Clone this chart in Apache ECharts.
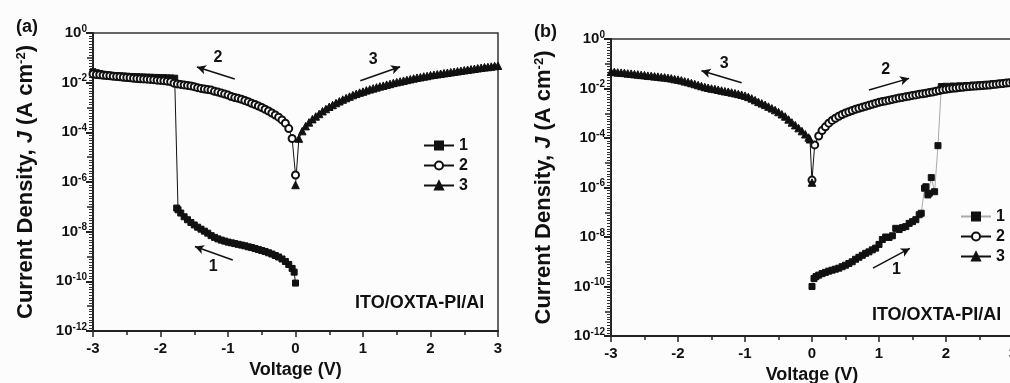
<!DOCTYPE html>
<html>
<head>
<meta charset="utf-8">
<script src="https://cdn.jsdelivr.net/npm/echarts@6.0.0/dist/echarts.min.js"></script>
<style>
  html, body { margin: 0; padding: 0; background: #fcfcfc; }
  #chart { width: 1010px; height: 383px; }
</style>
</head>
<body>
<div id="chart"></div>
<script>
// readings as [voltage (V), log10 J (A cm^-2)], in sweep order
// panel (a)
const aSweep1 = [[0,-10.07],[-0.02,-9.63],[-0.05,-9.48],[-0.1,-9.32],[-0.15,-9.2],[-0.2,-9.1],[-0.25,-9.02],[-0.3,-8.96],[-0.35,-8.9],[-0.4,-8.85],[-0.45,-8.8],[-0.5,-8.76],[-0.55,-8.72],[-0.6,-8.68],[-0.65,-8.64],[-0.7,-8.61],[-0.75,-8.57],[-0.8,-8.54],[-0.85,-8.51],[-0.9,-8.48],[-0.95,-8.45],[-1,-8.42],[-1.05,-8.38],[-1.1,-8.34],[-1.15,-8.29],[-1.2,-8.23],[-1.25,-8.16],[-1.3,-8.06],[-1.35,-7.98],[-1.4,-7.9],[-1.45,-7.82],[-1.5,-7.73],[-1.55,-7.63],[-1.6,-7.52],[-1.65,-7.4],[-1.7,-7.25],[-1.74,-7.12],[-1.76,-7.05],[-1.79,-1.82],[-1.85,-1.81],[-1.9,-1.81],[-1.95,-1.8],[-2,-1.8],[-2.05,-1.79],[-2.1,-1.79],[-2.15,-1.78],[-2.2,-1.78],[-2.25,-1.77],[-2.3,-1.77],[-2.35,-1.76],[-2.4,-1.76],[-2.45,-1.75],[-2.5,-1.74],[-2.55,-1.73],[-2.6,-1.73],[-2.65,-1.72],[-2.7,-1.71],[-2.75,-1.7],[-2.8,-1.68],[-2.85,-1.66],[-2.9,-1.63],[-2.95,-1.6],[-3,-1.56]];
const aSweep2 = [[-3,-1.65],[-2.95,-1.67],[-2.9,-1.68],[-2.85,-1.7],[-2.8,-1.71],[-2.75,-1.72],[-2.7,-1.74],[-2.65,-1.75],[-2.6,-1.76],[-2.55,-1.78],[-2.5,-1.79],[-2.45,-1.8],[-2.4,-1.82],[-2.35,-1.83],[-2.3,-1.84],[-2.25,-1.85],[-2.2,-1.86],[-2.15,-1.87],[-2.1,-1.88],[-2.05,-1.9],[-2,-1.91],[-1.95,-1.92],[-1.9,-1.94],[-1.85,-1.96],[-1.8,-2.02],[-1.75,-2.05],[-1.7,-2.07],[-1.65,-2.09],[-1.6,-2.11],[-1.55,-2.13],[-1.5,-2.16],[-1.45,-2.2],[-1.4,-2.23],[-1.35,-2.26],[-1.3,-2.28],[-1.25,-2.3],[-1.2,-2.35],[-1.15,-2.38],[-1.1,-2.42],[-1.05,-2.46],[-1,-2.5],[-0.95,-2.56],[-0.9,-2.6],[-0.85,-2.63],[-0.8,-2.67],[-0.75,-2.72],[-0.7,-2.77],[-0.65,-2.83],[-0.6,-2.88],[-0.55,-2.94],[-0.5,-3],[-0.45,-3.07],[-0.4,-3.14],[-0.35,-3.22],[-0.3,-3.3],[-0.25,-3.39],[-0.2,-3.5],[-0.15,-3.63],[-0.1,-3.85],[-0.05,-4.25],[0,-5.72]];
const aSweep3 = [[0,-6.12],[0.05,-4.25],[0.1,-3.95],[0.15,-3.75],[0.2,-3.6],[0.25,-3.47],[0.3,-3.36],[0.35,-3.26],[0.4,-3.15],[0.45,-3.06],[0.5,-2.97],[0.55,-2.9],[0.6,-2.82],[0.65,-2.75],[0.7,-2.68],[0.75,-2.62],[0.8,-2.56],[0.85,-2.5],[0.9,-2.45],[0.95,-2.4],[1,-2.36],[1.05,-2.31],[1.1,-2.27],[1.15,-2.23],[1.2,-2.19],[1.25,-2.15],[1.3,-2.12],[1.35,-2.08],[1.4,-2.05],[1.45,-2.01],[1.5,-1.98],[1.55,-1.95],[1.6,-1.92],[1.65,-1.89],[1.7,-1.86],[1.75,-1.83],[1.8,-1.8],[1.85,-1.78],[1.9,-1.75],[1.95,-1.73],[2,-1.7],[2.05,-1.68],[2.1,-1.66],[2.15,-1.64],[2.2,-1.62],[2.25,-1.6],[2.3,-1.58],[2.35,-1.56],[2.4,-1.54],[2.45,-1.52],[2.5,-1.5],[2.55,-1.48],[2.6,-1.46],[2.65,-1.44],[2.7,-1.42],[2.75,-1.4],[2.8,-1.38],[2.85,-1.37],[2.9,-1.35],[2.95,-1.33],[3,-1.32]];

// panel (b)
const bSweep1 = [[0,-10],[0.03,-9.68],[0.06,-9.6],[0.1,-9.54],[0.15,-9.48],[0.2,-9.43],[0.25,-9.38],[0.3,-9.34],[0.35,-9.3],[0.4,-9.26],[0.45,-9.2],[0.5,-9.14],[0.55,-9.07],[0.6,-9],[0.65,-8.9],[0.7,-8.82],[0.75,-8.74],[0.8,-8.66],[0.85,-8.6],[0.9,-8.52],[0.95,-8.45],[1,-8.3],[1.05,-8.1],[1.1,-8],[1.15,-8.02],[1.2,-7.95],[1.25,-7.65],[1.3,-7.7],[1.35,-7.62],[1.4,-7.58],[1.45,-7.45],[1.5,-7.38],[1.55,-7.3],[1.6,-7.1],[1.63,-7.04],[1.68,-6.03],[1.7,-5.97],[1.73,-6.3],[1.75,-6.23],[1.78,-5.6],[1.83,-6.17],[1.88,-4.31],[1.93,-1.92],[2,-1.91],[2.1,-1.9],[2.2,-1.89],[2.3,-1.88],[2.4,-1.86],[2.5,-1.85],[2.6,-1.83],[2.7,-1.81],[2.8,-1.79],[2.9,-1.77],[3,-1.74]];
const bSweep2 = [[0,-5.7],[0.04,-4.28],[0.1,-3.92],[0.15,-3.7],[0.2,-3.55],[0.25,-3.4],[0.3,-3.29],[0.35,-3.2],[0.4,-3.12],[0.45,-3.05],[0.5,-2.99],[0.55,-2.94],[0.6,-2.89],[0.65,-2.84],[0.7,-2.8],[0.75,-2.76],[0.8,-2.72],[0.85,-2.68],[0.9,-2.64],[0.95,-2.6],[1,-2.56],[1.05,-2.53],[1.1,-2.5],[1.15,-2.47],[1.2,-2.44],[1.25,-2.41],[1.3,-2.38],[1.35,-2.36],[1.4,-2.33],[1.45,-2.31],[1.5,-2.28],[1.55,-2.26],[1.6,-2.23],[1.65,-2.21],[1.7,-2.19],[1.75,-2.16],[1.8,-2.14],[1.85,-2.11],[1.9,-2.08],[1.95,-2.05],[2,-2.03],[2.05,-2.01],[2.1,-1.99],[2.15,-1.98],[2.2,-1.96],[2.25,-1.95],[2.3,-1.93],[2.35,-1.92],[2.4,-1.91],[2.45,-1.9],[2.5,-1.89],[2.55,-1.88],[2.6,-1.87],[2.65,-1.86],[2.7,-1.84],[2.75,-1.83],[2.8,-1.81],[2.85,-1.8],[2.9,-1.78],[2.95,-1.77],[3,-1.75]];
const bSweep3 = [[0,-5.8],[-0.03,-4.05],[-0.05,-3.98],[-0.1,-3.85],[-0.15,-3.72],[-0.2,-3.6],[-0.25,-3.48],[-0.3,-3.37],[-0.35,-3.25],[-0.4,-3.13],[-0.45,-3.04],[-0.5,-2.95],[-0.55,-2.87],[-0.6,-2.8],[-0.65,-2.73],[-0.7,-2.66],[-0.75,-2.6],[-0.8,-2.54],[-0.85,-2.47],[-0.9,-2.4],[-0.95,-2.34],[-1,-2.29],[-1.05,-2.25],[-1.1,-2.22],[-1.15,-2.19],[-1.2,-2.16],[-1.25,-2.13],[-1.3,-2.11],[-1.35,-2.08],[-1.4,-2.05],[-1.45,-2.02],[-1.5,-2],[-1.55,-1.97],[-1.6,-1.94],[-1.65,-1.9],[-1.7,-1.86],[-1.75,-1.82],[-1.8,-1.78],[-1.85,-1.74],[-1.9,-1.71],[-1.95,-1.67],[-2,-1.64],[-2.05,-1.62],[-2.1,-1.59],[-2.15,-1.57],[-2.2,-1.55],[-2.25,-1.54],[-2.3,-1.52],[-2.35,-1.51],[-2.4,-1.49],[-2.45,-1.48],[-2.5,-1.46],[-2.55,-1.45],[-2.6,-1.43],[-2.65,-1.42],[-2.7,-1.4],[-2.75,-1.39],[-2.8,-1.37],[-2.85,-1.36],[-2.9,-1.35],[-2.95,-1.33],[-3,-1.32]];

// sweep arrows [v1, logJ1, v2, logJ2] and notes [text, v, logJ]
const aArrows = [[-0.9,-1.85,-1.46,-1.37],[0.96,-1.92,1.55,-1.36],[-0.93,-9.14,-1.49,-8.6]];
const aNotes = [['2',-1.15,-1.0],['3',1.15,-1.09],['1',-1.22,-9.42],['ITO/OXTA-PI/Al',1.84,-10.87]];
const bArrows = [[-1.05,-1.77,-1.65,-1.28],[0.85,-2.06,1.45,-1.59],[0.91,-9.26,1.46,-8.46]];
const bNotes = [['3',-1.31,-0.98],['2',1.1,-1.25],['1',1.26,-9.33],['ITO/OXTA-PI/Al',1.86,-11.15]];

const xTicks = { min: -3, max: 3, interval: 1 };
const yRange = { min: 1e-12, max: 1 };
const decadeRange = { min: -12, max: 0, interval: 1 };

const FONT = '"Liberation Sans", Arial, sans-serif';
const INK = '#111';

const toJ = (pts) => pts.map(([v, e]) => [v, Math.pow(10, e)]);

function sweep(name, pts, symbol, size, gi, lineColor) {
  return {
    type: 'line',
    name,
    xAxisIndex: gi,
    yAxisIndex: gi,
    data: toJ(pts),
    symbol,
    symbolSize: size,
    showAllSymbol: true,
    lineStyle: { width: 1, color: lineColor || INK },
    itemStyle: { color: INK, borderColor: INK, borderWidth: 1 },
    emphasis: { disabled: true },
    animation: false,
  };
}

function annotate(series, arrows, notes) {
  series.markLine = {
    silent: true,
    animation: false,
    symbol: ['none', 'arrow'],
    symbolSize: [7, 9],
    lineStyle: { color: INK, width: 1.5, type: 'solid' },
    label: { show: false },
    data: arrows.map(([x1, y1, x2, y2]) => [
      { coord: [x1, Math.pow(10, y1)] },
      { coord: [x2, Math.pow(10, y2)] },
    ]),
  };
  series.markPoint = {
    silent: true,
    animation: false,
    symbol: 'rect',
    symbolSize: 1,
    itemStyle: { color: 'rgba(0,0,0,0)' },
    label: {
      show: true,
      position: 'inside',
      formatter: '{b}',
      color: INK,
      fontFamily: FONT,
      fontWeight: 'bold',
      fontSize: 16,
    },
    data: notes.map(([t, v, e]) => ({
      name: t,
      coord: [v, Math.pow(10, e)],
      label: t.length > 2 ? { fontSize: 18 } : {},
    })),
  };
  return series;
}

function xAxis(gi) {
  return {
    type: 'value',
    gridIndex: gi,
    ...xTicks,
    name: 'Voltage (V)',
    nameLocation: 'middle',
    nameGap: 30,
    nameTextStyle: { fontFamily: FONT, fontWeight: 'bold', fontSize: 18, color: INK },
    axisLine: { onZero: false, lineStyle: { color: '#222', width: 2 } },
    axisTick: { inside: false, length: 6, lineStyle: { color: '#222', width: 1.5 } },
    minorTick: { show: true, splitNumber: 2, length: 4, lineStyle: { color: '#222', width: 1.5 } },
    splitLine: { show: false },
    axisLabel: { margin: 10, fontFamily: FONT, fontWeight: 'bold', fontSize: 15, color: INK },
  };
}

function yAxis(gi) {
  return {
    type: 'log',
    logBase: 100,
    gridIndex: gi,
    ...yRange,
    name: '{t|Current Density, }{j|J}{t| (A cm}{s|-2}{t|)}',
    nameLocation: 'middle',
    nameRotate: 90,
    nameGap: 56,
    nameTextStyle: {
      rich: {
        t: { fontFamily: FONT, fontWeight: 'bold', fontSize: 22, color: INK },
        j: { fontFamily: FONT, fontWeight: 'bold', fontStyle: 'italic', fontSize: 22, color: INK },
        s: { fontFamily: FONT, fontWeight: 'bold', fontSize: 13, color: INK, verticalAlign: 'top', lineHeight: 14 },
      },
    },
    axisLine: { onZero: false, lineStyle: { color: '#222', width: 2 } },
    axisTick: { inside: false, length: 7, lineStyle: { color: '#222', width: 2 } },
    minorTick: { show: false },
    splitLine: { show: false },
    axisLabel: {
      margin: 6,
      formatter: (v) => `{b|10}{e|${Math.round(Math.log10(v))}}`,
      rich: {
        b: { fontFamily: FONT, fontWeight: 'bold', fontSize: 15, color: INK, lineHeight: 18 },
        e: { fontFamily: FONT, fontWeight: 'bold', fontSize: 10, color: INK, verticalAlign: 'top', lineHeight: 12 },
      },
    },
  };
}

// decade / sub-decade tick marks laid over the log axis (exponent units)
function decadeTicks(gi) {
  return {
    type: 'value',
    gridIndex: gi,
    position: 'left',
    offset: 0,
    ...decadeRange,
    axisLine: { show: false, onZero: false },
    axisLabel: { show: false },
    splitLine: { show: false },
    axisTick: { show: true, inside: false, length: 6, lineStyle: { color: '#222', width: 1.5 } },
    minorTick: { show: true, splitNumber: 9, length: 4, lineStyle: { color: '#333', width: 1 } },
  };
}

function legend(left, top, names) {
  return {
    left, top,
    orient: 'vertical',
    data: names,
    formatter: (n) => n.slice(1),
    itemWidth: 30,
    itemHeight: 10,
    itemGap: 3,
    selectedMode: false,
    textStyle: { fontFamily: FONT, fontWeight: 'bold', fontSize: 16, color: INK, lineHeight: 17 },
  };
}

const chart = echarts.init(document.getElementById('chart'), null, { renderer: 'canvas' });

const series = [
  sweep('a1', aSweep1, 'rect', 6, 0),
  sweep('a2', aSweep2, 'emptyCircle', 7, 0),
  annotate(sweep('a3', aSweep3, 'triangle', 7.5, 0), aArrows, aNotes),
  sweep('b1', bSweep1, 'rect', 6, 1, '#aaa'),
  sweep('b2', bSweep2, 'emptyCircle', 7, 1),
  annotate(sweep('b3', bSweep3, 'triangle', 7.5, 1), bArrows, bNotes),
];

chart.setOption({
  backgroundColor: '#fcfcfc',
  animation: false,
  title: [
    { text: '(a)', left: 11, top: 13, textStyle: { fontFamily: FONT, fontWeight: 'bold', fontSize: 18, color: INK } },
    { text: '(b)', left: 529, top: 18, textStyle: { fontFamily: FONT, fontWeight: 'bold', fontSize: 18, color: INK } },
  ],
  grid: [
    { left: 93, top: 33, width: 405, height: 298, show: true, borderColor: '#333', borderWidth: 1.5, outerBoundsMode: 'none' },
    { left: 611, top: 39, width: 402, height: 297, show: true, borderColor: '#333', borderWidth: 1.5, outerBoundsMode: 'none' },
  ],
  legend: [
    legend(418, 132, ['a1', 'a2', 'a3']),
    legend(955, 203, ['b1', 'b2', 'b3']),
  ],
  xAxis: [xAxis(0), xAxis(1)],
  yAxis: [yAxis(0), yAxis(1), decadeTicks(0), decadeTicks(1)],
  series,
});
</script>
</body>
</html>
